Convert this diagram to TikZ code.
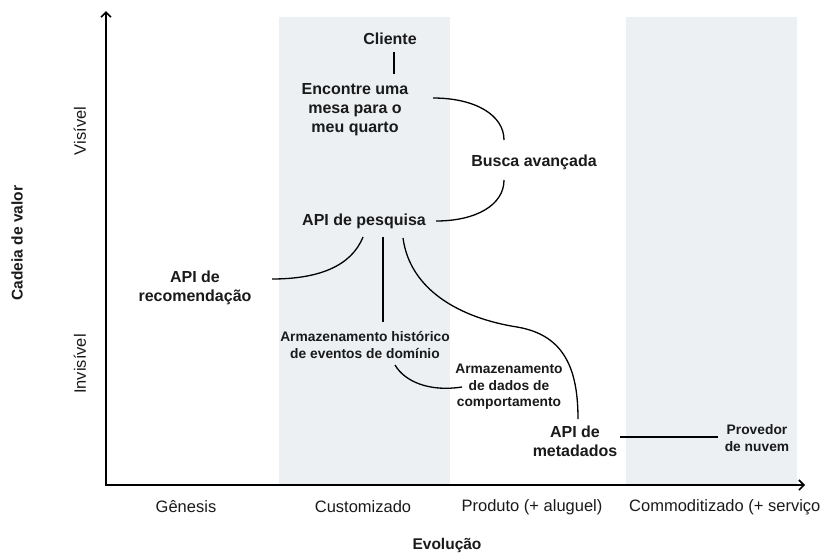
\documentclass[tikz,border=0pt]{standalone}
\usepackage{fontspec}
\setmainfont{Liberation Sans}
\usetikzlibrary{arrows.meta,calc}
\definecolor{band}{HTML}{EDF0F3}
\definecolor{ink}{HTML}{1A1A1A}
\begin{document}
\begin{tikzpicture}[x=1pt,y=-1pt,
  lbl/.style={font=\fontsize{16}{19}\selectfont\bfseries, align=center, inner sep=0pt, text=ink},
  sml/.style={font=\fontsize{13.8}{16.5}\selectfont\bfseries, align=center, inner sep=0pt, text=ink},
  axl/.style={font=\fontsize{16.5}{19}\selectfont, inner sep=0pt, text=ink},
  ttl/.style={font=\fontsize{15.5}{18}\selectfont\bfseries, inner sep=0pt, text=ink},
  conn/.style={draw=black, line width=1.3pt},
  axis/.style={draw=black, line width=1.6pt, line join=miter,
    {Straight Barb[length=5pt,width=10pt]}-{Straight Barb[length=5pt,width=10pt]}}]

\useasboundingbox (0,0) rectangle (829,555);
\clip (0,0) rectangle (829,555);

% evolution stage bands
\fill[band] (279,17) rectangle (450,485);
\fill[band] (626,17) rectangle (797,485);

% axes
\coordinate (ytop) at (106,11);
\coordinate (orig) at (106,485);
\coordinate (xend) at (805,485);
\draw[axis] (ytop) -- (orig) -- (xend);

% axis labels
\node[axl] (gen) at (186,507) {Gênesis};
\node[axl] (cus) at (363,507) {Customizado};
\node[axl] (pro) at (532,507) {Produto (+ aluguel)};
\node[axl, anchor=west] (com) at (629,507) {Commoditizado (+ serviço};
\node[ttl] (evo) at (447,545) {Evolução};
\node[ttl, rotate=90] (cad) at (17,243) {Cadeia de valor};
\node[axl, rotate=90] (vis) at (80,131) {Visível};
\node[axl, rotate=90] (inv) at (80,364) {Invisível};

% components
\node[lbl] (cli) at (390,39) {Cliente};
\node[lbl] (enc) at (355,110) {Encontre uma\\mesa para o\\meu quarto};
\node[lbl] (bus) at (534,162) {Busca avançada};
\node[lbl] (api) at (364,221) {API de pesquisa};
\node[lbl] (rec) at (195,288) {API de\\recomendação};
\node[sml] (his) at (365,345) {Armazenamento histórico\\de eventos de domínio};
\node[sml] (dat) at (509,387) {Armazenamento\\de dados de\\comportamento};
\node[lbl] (met) at (575,441) {API de\\metadados};
\node[sml] (prv) at (757,438) {Provedor\\de nuvem};

% dependencies
\draw[conn] ($(cli)+(4,13)$) -- ($(enc)+(39,-36)$);
\draw[conn] ($(enc)+(78,-12)$) .. controls +(42,0) and +(0,-25) .. ($(bus)+(-30,-22)$);
\draw[conn] ($(bus)+(-30,18)$) .. controls +(0,25) and +(40,0) .. ($(api)+(72,0)$);
\draw[conn] ($(api)+(-1,16)$) .. controls +(-12,30) and +(45,0) .. ($(rec)+(77,-9)$);
\draw[conn] ($(api)+(19,16)$) -- ($(his)+(18,-23)$);
\draw[conn] ($(api)+(39,17)$) .. controls +(7,52) and +(-57,-9) .. (517,327)
  .. controls +(48,8) and +(0,-49) .. ($(met)+(3,-22)$);
\draw[conn] ($(his)+(30,20)$) .. controls +(10,17) and +(-32,5) .. ($(dat)+(-47,0)$);
\draw[conn] ($(met)+(45,-4)$) -- ($(prv)+(-39,-1)$);
\end{tikzpicture}
\end{document}
